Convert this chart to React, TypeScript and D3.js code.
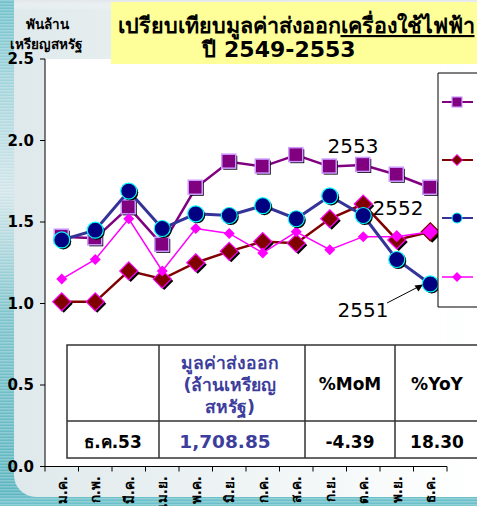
import React from "react";
import * as d3 from "d3";

const months = ["ม.ค.", "ก.พ.", "มี.ค.", "เม.ย.", "พ.ค.", "มิ.ย.", "ก.ค.", "ส.ค.", "ก.ย.", "ต.ค.", "พ.ย.", "ธ.ค."];
const v2553 = [1.41, 1.40, 1.59, 1.36, 1.71, 1.87, 1.84, 1.91, 1.84, 1.85, 1.79, 1.71];
const v2552 = [1.01, 1.01, 1.20, 1.15, 1.25, 1.32, 1.38, 1.37, 1.52, 1.61, 1.39, 1.44];
const v2551 = [1.39, 1.45, 1.69, 1.46, 1.55, 1.54, 1.60, 1.52, 1.66, 1.54, 1.27, 1.12];
const v2550 = [1.15, 1.27, 1.52, 1.20, 1.46, 1.43, 1.31, 1.44, 1.33, 1.41, 1.41, 1.44];
const yTicks = [0, 0.5, 1.0, 1.5, 2.0, 2.5];
const tableHeader = ["", "มูลค่าส่งออก|(ล้านเหรียญ|สหรัฐ)", "%MoM", "%YoY"];
const tableRow = ["ธ.ค.53", "1,708.85", "-4.39", "18.30"];

const FONT = "Tahoma, Verdana, 'DejaVu Sans', 'Noto Sans', sans-serif";

export default function App() {
  const W = 477, H = 506;
  const x = d3.scaleBand<string>().domain(months).range([45, 447]);
  const y = d3.scaleLinear().domain([0, 2.5]).range([466.5, 59]);
  const cx = (i: number) => (x(months[i]) as number) + x.bandwidth() / 2;
  const line = d3.line<number>().x((_, i) => cx(i)).y((d) => y(d));

  const diamond = (px: number, py: number, r: number) =>
    `M${px},${py - r}L${px + r},${py}L${px},${py + r}L${px - r},${py}Z`;

  const blue = "#3d3d9c";

  return (
    <svg width={W} height={H} style={{ position: "absolute", left: 0, top: 0 }}>
      <defs>
        <linearGradient id="leftBand" x1="0" y1="0" x2="0" y2="1">
          <stop offset="0" stopColor="#6fc0ca" />
          <stop offset="0.15" stopColor="#9fd3da" />
          <stop offset="0.38" stopColor="#d3e6ea" />
          <stop offset="0.62" stopColor="#7fc4cc" />
          <stop offset="1" stopColor="#5bb5c0" />
        </linearGradient>
        <pattern id="stripes" width="4" height="3" patternUnits="userSpaceOnUse">
          <rect width="4" height="1.5" fill="#ffffff" opacity="0.25" />
        </pattern>
        <linearGradient id="whiteFade" x1="0" y1="0" x2="1" y2="0">
          <stop offset="0" stopColor="#dfe9eb" />
          <stop offset="1" stopColor="#ffffff" />
        </linearGradient>
        <linearGradient id="topFade" x1="0" y1="0" x2="0" y2="1">
          <stop offset="0" stopColor="#e2e6ea" />
          <stop offset="1" stopColor="#ffffff" stopOpacity="0" />
        </linearGradient>
      </defs>

      {/* background */}
      <rect x={0} y={0} width={W} height={H} fill="url(#leftBand)" />
      <rect x={0} y={0} width={W} height={H} fill="url(#stripes)" />
      <rect x={0} y={497} width={W} height={9} fill="#6cc0ca" />
      <rect x={0} y={497} width={W} height={9} fill="url(#stripes)" />
      <path d={`M14,0H${W}V497H36A22,22 0 0 1 14,475Z`} fill="url(#whiteFade)" />
      <rect x={14} y={0} width={W - 14} height={10} fill="url(#topFade)" />
      <rect x={45} y={59} width={402} height={408} fill="#ffffff" />

      {/* title */}
      <rect x={111} y={2} width={366} height={62} fill="#ffff99" />
      <text x={296} y={33} textAnchor="middle" fontFamily={FONT} fontWeight="bold" fontSize={21.5} fill="#000">
        เปรียบเทียบมูลค่าส่งออก<tspan textDecoration="underline">เครื่องใช้ไฟฟ้า</tspan>
      </text>
      <text x={279} y={57} textAnchor="middle" fontFamily={FONT} fontWeight="bold" fontSize={22} fill="#000">
        ปี 2549-2553
      </text>

      {/* y-axis title */}
      <text x={47} y={29} textAnchor="middle" fontFamily={FONT} fontWeight="bold" fontSize={13.5} fill="#000">พันล้าน</text>
      <text x={46} y={49} textAnchor="middle" fontFamily={FONT} fontWeight="bold" fontSize={13.5} fill="#000">เหรียญสหรัฐ</text>

      {/* y axis */}
      <line x1={45} x2={45} y1={y(2.5)} y2={y(0)} stroke="#000" strokeWidth={1} />
      {yTicks.map((t) => (
        <g key={t}>
          <line x1={40} x2={45} y1={y(t)} y2={y(t)} stroke="#000" />
          <text x={34} y={y(t)} dy="0.36em" textAnchor="end" fontFamily={FONT} fontWeight="bold" fontSize={15} fill="#000">
            {t.toFixed(1)}
          </text>
        </g>
      ))}
      {/* x axis */}
      <line x1={43} x2={447} y1={y(0)} y2={y(0)} stroke="#000" strokeWidth={1.2} />
      {months.map((m, i) => (
        <line key={"t" + i} x1={x(m) as number} x2={x(m) as number} y1={y(0)} y2={y(0) + 5} stroke="#000" />
      ))}
      <line x1={447} x2={447} y1={y(0)} y2={y(0) + 5} stroke="#000" />
      {months.map((m, i) => (
        <text
          key={"l" + i}
          transform={`translate(${cx(i)},476) rotate(-90)`}
          dy="0.36em"
          textAnchor="end"
          fontFamily={FONT}
          fontWeight="bold"
          fontSize={13.5}
          fill="#000"
        >
          {m}
        </text>
      ))}

      {/* series 2553 */}
      <path d={line(v2553) as string} fill="none" stroke="#800080" strokeWidth={2.5} />
      {v2553.map((v, i) => (
        <g key={"s" + i}>
          <rect x={cx(i) - 6} y={y(v) - 6} width={14} height={14} fill="#000" />
          <rect x={cx(i) - 7.5} y={y(v) - 7.5} width={14} height={14} fill="#800080" stroke="#cc99ff" strokeWidth={1.5} />
        </g>
      ))}

      {/* series 2552 */}
      <path d={line(v2552) as string} fill="none" stroke="#800000" strokeWidth={2.5} />
      {v2552.map((v, i) => (
        <g key={"d" + i}>
          <path d={diamond(cx(i) + 2, y(v) + 2, 9)} fill="#000" />
          <path d={diamond(cx(i), y(v), 9)} fill={i === 11 ? "#ff00ff" : "#800000"} stroke={i === 11 ? "#800000" : "#ff00ff"} strokeWidth={1.2} />
        </g>
      ))}

      {/* series 2550 */}
      <path d={line(v2550) as string} fill="none" stroke="#ff00ff" strokeWidth={1.5} />
      {v2550.map((v, i) => (
        <path key={"p" + i} d={diamond(cx(i), y(v), 5.5)} fill="#ff00ff" />
      ))}

      {/* series 2551 */}
      <path d={line(v2551) as string} fill="none" stroke="#333399" strokeWidth={3} />
      {v2551.map((v, i) => (
        <g key={"c" + i}>
          <circle cx={cx(i) + 1.5} cy={y(v) + 1.5} r={8} fill="#000" />
          <circle cx={cx(i)} cy={y(v)} r={8} fill="#000080" stroke="#00ffff" strokeWidth={1.2} />
        </g>
      ))}

      {/* annotations */}
      <text x={353} y={153} textAnchor="middle" fontFamily={FONT} fontSize={20} fill="#000">2553</text>
      <text x={398} y={215} textAnchor="middle" fontFamily={FONT} fontSize={20} fill="#000">2552</text>
      <text x={363} y={317} textAnchor="middle" fontFamily={FONT} fontSize={20} fill="#000">2551</text>
      <line x1={387} y1={303} x2={418} y2={287} stroke="#000" strokeWidth={1} />
      <path d="M423,284.5 L414.5,285.5 L418.5,291.5 Z" fill="#000" />

      {/* legend */}
      <path d={`M${W + 2},73H438V307H${W + 2}`} fill="#fff" stroke="#000" strokeWidth={1} />
      {[
        { yy: 102, kind: "sq" },
        { yy: 160, kind: "dm" },
        { yy: 218, kind: "ci" },
        { yy: 277, kind: "pk" },
      ].map((e) => (
        <g key={e.kind}>
          <line
            x1={442}
            x2={473}
            y1={e.yy}
            y2={e.yy}
            stroke={e.kind === "sq" ? "#800080" : e.kind === "dm" ? "#800000" : e.kind === "ci" ? "#333399" : "#ff00ff"}
            strokeWidth={e.kind === "pk" ? 1.5 : 2}
          />
          {e.kind === "sq" && <rect x={452} y={97} width={10} height={10} fill="#800080" stroke="#cc99ff" strokeWidth={1.2} />}
          {e.kind === "dm" && <path d={diamond(457, e.yy, 5.5)} fill="#800000" stroke="#ff00ff" strokeWidth={1} />}
          {e.kind === "ci" && <circle cx={457} cy={e.yy} r={5} fill="#000080" stroke="#00ffff" strokeWidth={1} />}
          {e.kind === "pk" && <path d={diamond(457, e.yy, 5)} fill="#ff00ff" />}
        </g>
      ))}

      {/* table */}
      <rect x={67} y={345} width={W} height={113} fill="#fff" stroke="#333" strokeWidth={1.5} />
      <line x1={67} x2={W} y1={421} y2={421} stroke="#333" strokeWidth={1.5} />
      {[159, 305, 395].map((xx) => (
        <line key={xx} x1={xx} x2={xx} y1={345} y2={458} stroke="#333" strokeWidth={1.5} />
      ))}
      {tableHeader[1].split("|").map((t, i) => (
        <text key={i} x={230} y={369 + i * 22} textAnchor="middle" fontFamily={FONT} fontWeight="bold" fontSize={17.5} fill={blue}>
          {t}
        </text>
      ))}
      <text x={350} y={390} textAnchor="middle" fontFamily={FONT} fontWeight="bold" fontSize={17} fill="#000">{tableHeader[2]}</text>
      <text x={437} y={390} textAnchor="middle" fontFamily={FONT} fontWeight="bold" fontSize={17} fill="#000">{tableHeader[3]}</text>
      <text x={113} y={448} textAnchor="middle" fontFamily={FONT} fontWeight="bold" fontSize={17} fill="#000">{tableRow[0]}</text>
      <text x={225} y={448} textAnchor="middle" fontFamily={FONT} fontWeight="bold" fontSize={18.5} fill={blue}>{tableRow[1]}</text>
      <text x={350} y={448} textAnchor="middle" fontFamily={FONT} fontWeight="bold" fontSize={17} fill="#000">{tableRow[2]}</text>
      <text x={437} y={448} textAnchor="middle" fontFamily={FONT} fontWeight="bold" fontSize={17} fill="#000">{tableRow[3]}</text>
    </svg>
  );
}
